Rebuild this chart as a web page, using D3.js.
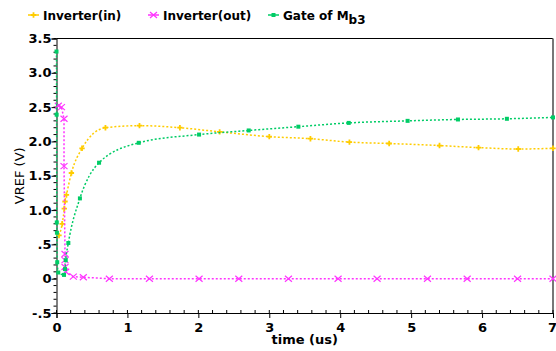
<!DOCTYPE html>
<html>
<head>
<meta charset="utf-8">
<script src="https://cdn.jsdelivr.net/npm/d3@7"></script>
<style>
  body { margin: 0; background: #fff; }
  text { font-family: "DejaVu Sans", sans-serif; font-weight: bold; }
</style>
</head>
<body>
<div id="chart"></div>
<script>
// values
const inT  = [0.035, 0.08, 0.11, 0.12, 0.14, 0.21, 0.36, 0.69, 1.17, 1.74, 2.30, 3.0, 3.58, 4.13, 4.69, 5.40, 5.95, 6.51, 7.0];
const inV  = [0.63, 0.80, 1.02, 1.125, 1.22, 1.54, 1.90, 2.20, 2.23, 2.20, 2.14, 2.07, 2.04, 1.99, 1.97, 1.94, 1.91, 1.89, 1.90];

const outT = [0.025, 0.07, 0.106, 0.106, 0.12, 0.12, 0.12, 0.13, 0.237, 0.378, 0.745, 1.31, 2.01, 2.57, 3.27, 3.97, 4.52, 5.23, 5.79, 6.50, 7.0];
const outV = [2.52, 2.50, 2.33, 1.64, 0.36, 0.27, 0.17, 0.10, 0.03, 0.02, 0, 0, 0, 0, 0, 0, 0, 0, 0, 0, 0];

const gateT = [0, 0.002, 0.004, 0.006, 0.01, 0.025, 0.106, 0.12, 0.13, 0.167, 0.33, 0.60, 1.16, 2.01, 2.71, 3.41, 4.12, 4.95, 5.66, 6.35, 7.0];
const gateV = [3.31, 2.39, 0.82, 0.67, 0.24, 0.09, 0.055, 0.14, 0.27, 0.52, 1.17, 1.69, 1.98, 2.10, 2.16, 2.215, 2.27, 2.30, 2.32, 2.33, 2.35];

const xTicks = [0, 1, 2, 3, 4, 5, 6, 7];
const yTicks = [-0.5, 0, 0.5, 1.0, 1.5, 2.0, 2.5, 3.0, 3.5];
const yLabels = ["-.5", "0", ".5", "1.0", "1.5", "2.0", "2.5", "3.0", "3.5"];

const width = 556, height = 351;
const margin = { top: 38.5, right: 3, bottom: 38, left: 56.5 };

const x = d3.scaleLinear().domain([0, 7]).range([margin.left, width - margin.right]);
const y = d3.scaleLinear().domain([-0.5, 3.5]).range([height - margin.bottom, margin.top]);

const svg = d3.select("#chart").append("svg")
  .attr("width", width)
  .attr("height", height);

// frame: top black, right grey
svg.append("line")
  .attr("x1", x(0)).attr("x2", x(7))
  .attr("y1", y(3.5)).attr("y2", y(3.5))
  .attr("stroke", "#000");
svg.append("line")
  .attr("x1", x(7)).attr("x2", x(7))
  .attr("y1", y(3.5)).attr("y2", y(-0.5))
  .attr("stroke", "#777").attr("stroke-width", 2);

// x axis
const xMinor = d3.range(0, 7.001, 0.2);
const gx = svg.append("g").attr("transform", "translate(0," + y(-0.5) + ")");
gx.selectAll(".minor").data(xMinor).enter().append("line")
  .attr("x1", d => x(d)).attr("x2", d => x(d))
  .attr("y1", 0).attr("y2", -3)
  .attr("stroke", "#000");
gx.call(d3.axisBottom(x).tickValues(xTicks).tickSize(5).tickFormat(d3.format("d")));
gx.select(".domain").attr("stroke", "#000");
gx.selectAll(".tick text").attr("font-size", 13).attr("dy", "0.85em")
  .attr("dx", d => d === 7 ? -1 : 0);

// y axis
const yMinor = d3.range(-0.5, 3.501, 0.1);
const gy = svg.append("g").attr("transform", "translate(" + x(0) + ",0)");
gy.selectAll(".minor").data(yMinor).enter().append("line")
  .attr("x1", 0).attr("x2", -3)
  .attr("y1", d => y(d)).attr("y2", d => y(d))
  .attr("stroke", "#000");
gy.call(d3.axisLeft(y).tickValues(yTicks).tickSize(5).tickFormat((d, i) => yLabels[i]));
gy.selectAll(".tick text").attr("font-size", 13).attr("x", -5);

// axis titles
svg.append("text")
  .attr("x", (x(0) + x(7)) / 2).attr("y", 344)
  .attr("text-anchor", "middle").attr("font-size", 13)
  .text("time (us)");
svg.append("text")
  .attr("transform", "translate(24," + y(1.5) + ") rotate(-90)")
  .attr("text-anchor", "middle").attr("font-size", 13)
  .style("font-weight", "normal")
  .text("VREF (V)");

const series = [
  { name: "Inverter(in)", t: inT, v: inV, color: "#ffcc00", marker: "star", curve: d3.curveMonotoneX },
  { name: "Inverter(out)", t: outT, v: outV, color: "#ff33ff", marker: "cross", curve: d3.curveLinear },
  { name: "Gate of Mb3", t: gateT, v: gateV, color: "#00cc66", marker: "square", curve: d3.curveMonotoneX }
];

function drawMarker(g, type, color) {
  if (type === "cross") {
    g.append("path").attr("d", "M-3.5,-3 L3.5,3 M-3.5,3 L3.5,-3")
      .attr("stroke", color).attr("stroke-width", 1.2).attr("fill", "none");
  } else if (type === "square") {
    g.append("rect").attr("x", -2).attr("y", -2).attr("width", 4).attr("height", 4).attr("fill", color);
  } else {
    g.append("path").attr("d", d3.symbol(d3.symbolCross, 16)()).attr("fill", color);
  }
}

series.forEach(s => {
  const pts = s.t.map((t, i) => [t, s.v[i]]);
  const line = d3.line().x(d => x(d[0])).y(d => y(d[1])).curve(s.curve);
  svg.append("path")
    .datum(pts)
    .attr("d", line)
    .attr("fill", "none")
    .attr("stroke", s.color)
    .attr("stroke-width", 1.5)
    .attr("stroke-dasharray", "2,2");
  svg.append("g").selectAll("g").data(pts).enter().append("g")
    .attr("transform", d => "translate(" + x(d[0]) + "," + y(d[1]) + ")")
    .each(function () { drawMarker(d3.select(this), s.marker, s.color); });
});

// legend
const legendX = [28, 148, 268];
series.forEach((s, i) => {
  const g = svg.append("g").attr("transform", "translate(" + legendX[i] + ",15)");
  g.append("line").attr("x1", 0).attr("x2", 11).attr("y1", 0).attr("y2", 0)
    .attr("stroke", s.color).attr("stroke-width", 1.5);
  const m = g.append("g").attr("transform", "translate(5.5,0)");
  drawMarker(m, s.marker, s.color);
  const txt = g.append("text").attr("x", 15).attr("y", 5).attr("font-size", 12);
  if (i === 2) {
    txt.append("tspan").text("Gate of M");
    txt.append("tspan").attr("dy", 4).attr("font-size", 12).text("b3");
  } else {
    txt.text(s.name);
  }
});
</script>
</body>
</html>
